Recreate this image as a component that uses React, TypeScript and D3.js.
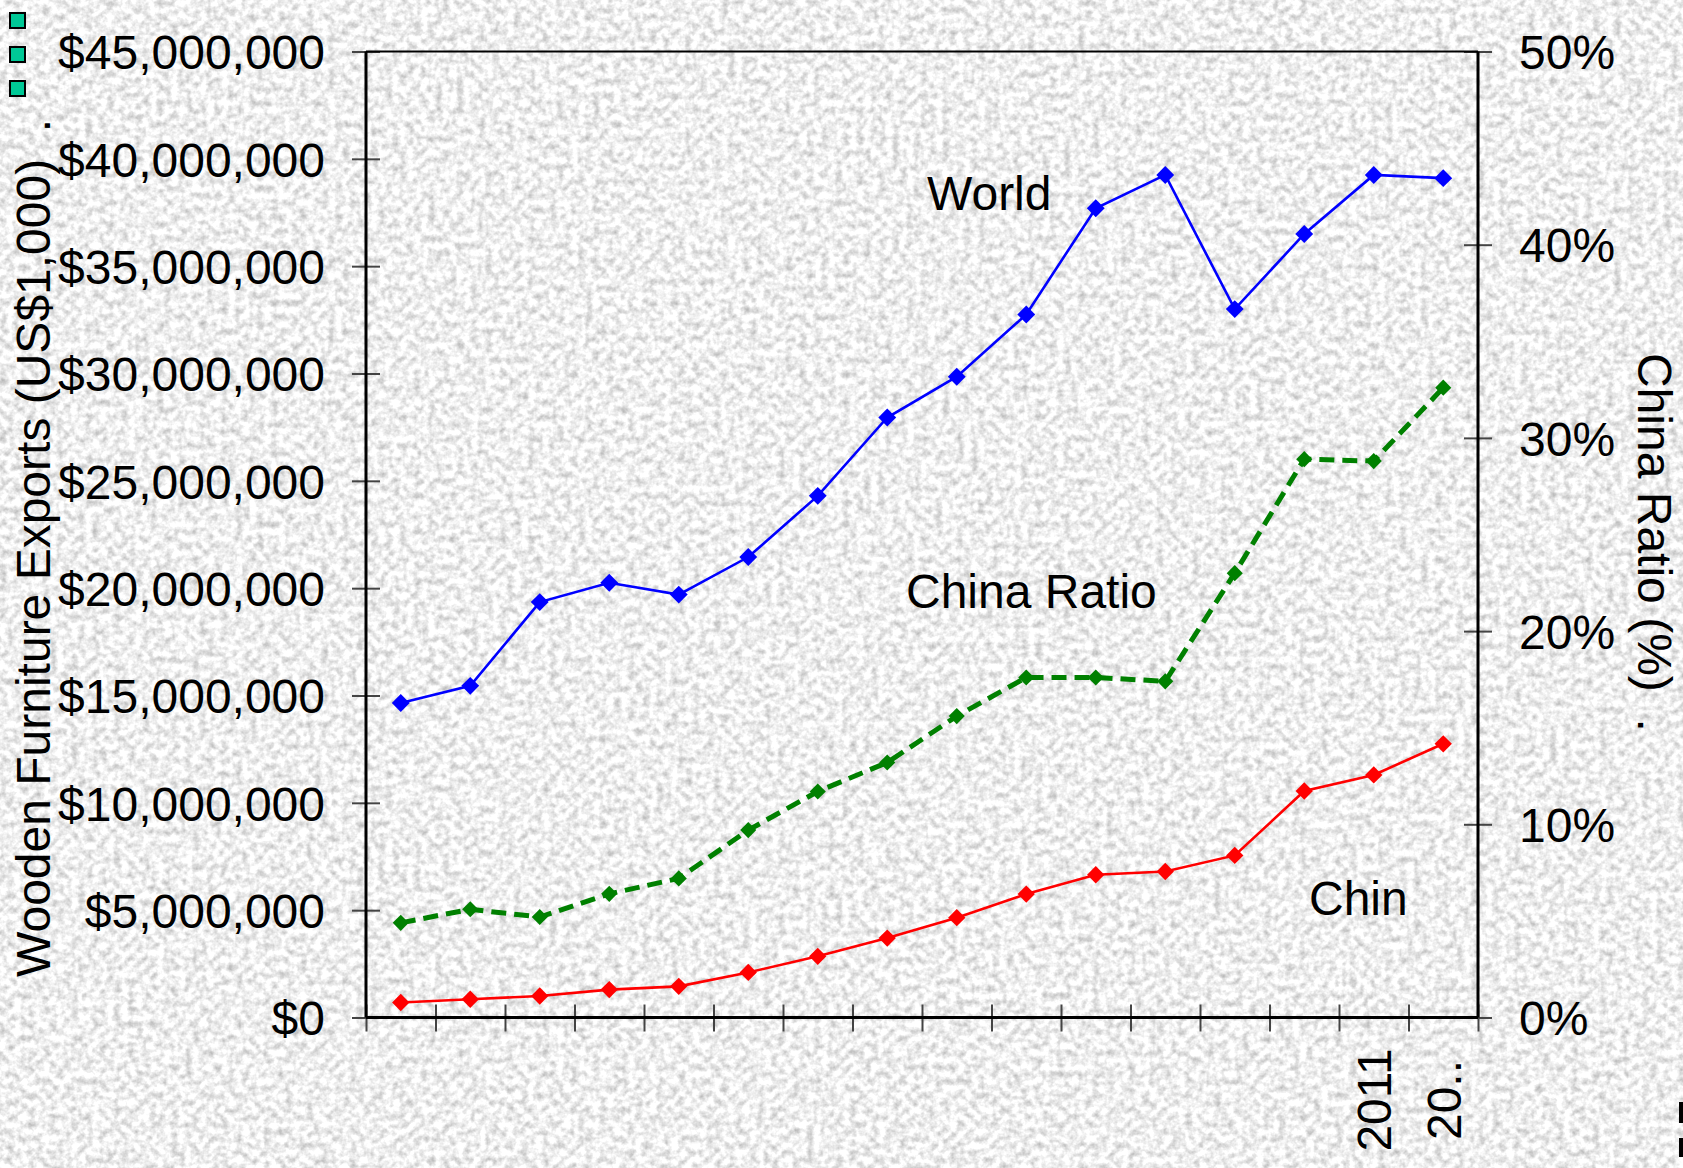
import React, { useRef, useEffect } from 'react';
import * as d3 from 'd3';

// Wooden furniture exports (US$1,000), 1997–2012
const YEARS = ['1997', '1998', '1999', '2000', '2001', '2002', '2003', '2004', '2005', '2006', '2007', '2008', '2009', '2010', '2011', '2012'];
// only the last two category labels survive in the original
const YEAR_LABELS = ['', '', '', '', '', '', '', '', '', '', '', '', '', '', '2011', '20..'];

const WORLD = [14650000, 15450000, 19350000, 20250000, 19700000, 21450000, 24300000, 27950000, 29850000, 32750000, 37700000, 39250000, 33000000, 36500000, 39250000, 39100000];
const CHINA = [700000, 850000, 1000000, 1300000, 1450000, 2100000, 2850000, 3700000, 4650000, 5750000, 6650000, 6800000, 7550000, 10550000, 11300000, 12750000];
const CHINA_RATIO = [4.9, 5.6, 5.2, 6.4, 7.2, 9.7, 11.7, 13.2, 15.6, 17.6, 17.6, 17.4, 23.0, 28.9, 28.8, 32.6];

const LEFT_TICKS = [0, 5000000, 10000000, 15000000, 20000000, 25000000, 30000000, 35000000, 40000000, 45000000];
const RIGHT_TICKS = [0, 10, 20, 30, 40, 50];

const WIDTH = 1683;
const HEIGHT = 1168;
const FONT = '"Liberation Sans", Arial, Helvetica, sans-serif';
const FS = 48;

const App: React.FC = () => {
  const ref = useRef<SVGSVGElement>(null);

  useEffect(() => {
    if (!ref.current) return;
    const svg = d3.select(ref.current);
    svg.selectAll('*').remove();

    const left = 366;
    const right = 1478;
    const top = 51.5;
    const bottom = 1017.5;

    // granite-ish paper background
    const defs = svg.append('defs');
    const filter = defs
      .append('filter')
      .attr('id', 'granite')
      .attr('filterUnits', 'userSpaceOnUse')
      .attr('x', 0)
      .attr('y', 0)
      .attr('width', WIDTH)
      .attr('height', HEIGHT)
      .attr('color-interpolation-filters', 'sRGB');
    filter
      .append('feTurbulence')
      .attr('type', 'fractalNoise')
      .attr('baseFrequency', 0.14)
      .attr('numOctaves', 3)
      .attr('seed', 11);
    filter
      .append('feColorMatrix')
      .attr('type', 'matrix')
      .attr('values', '0.5 0 0 0 0.69  0.5 0 0 0 0.69  0.5 0 0 0 0.69  0 0 0 0 1');

    svg.append('rect').attr('width', WIDTH).attr('height', HEIGHT).attr('fill', '#efefef');
    svg.append('rect').attr('width', WIDTH).attr('height', HEIGHT).attr('filter', 'url(#granite)');

    // Scales
    const x = d3.scaleBand<string>().domain(YEARS).range([left, right]).paddingInner(0).paddingOuter(0);
    const xEdge = d3.scaleLinear().domain([0, YEARS.length]).range([left, right]);
    const yL = d3.scaleLinear().domain([0, 45000000]).range([bottom, top]);
    const yR = d3.scaleLinear().domain([0, 50]).range([bottom, top]);
    const cx = (i: number) => (x(YEARS[i]) ?? 0) + x.bandwidth() / 2;

    const styleText = (sel: d3.Selection<any, any, any, any>) =>
      sel.style('font-family', FONT).style('font-size', `${FS}px`).attr('fill', '#000');

    // Left axis
    const gL = svg
      .append('g')
      .attr('transform', `translate(${left},0)`)
      .call(
        d3
          .axisLeft(yL)
          .tickValues(LEFT_TICKS)
          .tickFormat((d) => '$' + d3.format(',')(d as number))
      );
    gL.selectAll('.tick line').attr('x1', 14).attr('x2', -14).attr('stroke', '#444').attr('stroke-width', 2);
    styleText(gL.selectAll('.tick text').attr('x', -41).attr('dy', '0.36em'));

    // Right axis
    const gR = svg
      .append('g')
      .attr('transform', `translate(${right},0)`)
      .call(
        d3
          .axisRight(yR)
          .tickValues(RIGHT_TICKS)
          .tickFormat((d) => `${d}%`)
      );
    gR.selectAll('.tick line').attr('x1', -14).attr('x2', 14).attr('stroke', '#444').attr('stroke-width', 2);
    styleText(gR.selectAll('.tick text').attr('x', 41).attr('dy', '0.36em'));

    // Bottom axis: ticks on category boundaries
    const gB = svg
      .append('g')
      .attr('transform', `translate(0,${bottom})`)
      .call(
        d3
          .axisBottom(xEdge)
          .tickValues(d3.range(0, YEARS.length + 1))
          .tickFormat(() => '')
      );
    gB.selectAll('.tick line').attr('y1', -13).attr('y2', 14).attr('stroke', '#444').attr('stroke-width', 2);

    svg.selectAll('.domain').remove();
    svg.selectAll('.tick text').attr('font-family', null);

    // Category labels, rotated
    svg
      .append('g')
      .selectAll('text')
      .data(YEAR_LABELS)
      .enter()
      .append('text')
      .attr('transform', (_, i) => `translate(${cx(i)},1100) rotate(-90)`)
      .attr('text-anchor', 'middle')
      .attr('dy', '0.36em')
      .text((d) => d)
      .call(styleText);

    // Frame
    const frame = svg.append('g').attr('stroke', '#000').attr('fill', 'none');
    frame.append('line').attr('x1', left).attr('x2', right).attr('y1', top).attr('y2', top).attr('stroke-width', 2);
    frame.append('line').attr('x1', left).attr('x2', left).attr('y1', top).attr('y2', bottom).attr('stroke-width', 3);
    frame.append('line').attr('x1', right).attr('x2', right).attr('y1', top).attr('y2', bottom).attr('stroke-width', 3);
    frame.append('line').attr('x1', left).attr('x2', right).attr('y1', bottom).attr('y2', bottom).attr('stroke-width', 3);

    // Series
    const diamond = (size: number) => d3.symbol().type(d3.symbolSquare).size(size)();
    const drawSeries = (
      values: number[],
      yScale: d3.ScaleLinear<number, number>,
      color: string,
      width: number,
      dash: string | null,
      markerSize: number
    ) => {
      const line = d3
        .line<number>()
        .x((_, i) => cx(i))
        .y((d) => yScale(d));
      svg
        .append('path')
        .datum(values)
        .attr('d', line)
        .attr('fill', 'none')
        .attr('stroke', color)
        .attr('stroke-width', width)
        .attr('stroke-dasharray', dash);
      svg
        .append('g')
        .selectAll('path')
        .data(values)
        .enter()
        .append('path')
        .attr('d', diamond(markerSize))
        .attr('transform', (d, i) => `translate(${cx(i)},${yScale(d)}) rotate(45)`)
        .attr('fill', color);
    };

    drawSeries(WORLD, yL, '#0000ff', 2.6, null, 160);
    drawSeries(CHINA_RATIO, yR, '#008000', 5, '15,8', 130);
    drawSeries(CHINA, yL, '#ff0000', 2.6, null, 150);

    // Series annotations
    svg.append('text').attr('x', 927).attr('y', 210).text('World').call(styleText);
    svg.append('text').attr('x', 906).attr('y', 608).text('China Ratio').call(styleText);
    svg.append('text').attr('x', 1309).attr('y', 915).text('Chin').call(styleText);

    // Axis titles
    svg
      .append('text')
      .attr('transform', 'translate(50,977) rotate(-90)')
      .attr('text-anchor', 'start')
      .style('white-space', 'pre')
      .text('Wooden Furniture Exports (US$1,000)  .')
      .call(styleText);
    svg
      .append('text')
      .attr('transform', 'translate(1638,353) rotate(90)')
      .attr('text-anchor', 'start')
      .style('white-space', 'pre')
      .text('China Ratio (%)  .')
      .call(styleText);

    // Slide bullets at top left
    svg
      .append('g')
      .selectAll('rect')
      .data([0, 1, 2])
      .enter()
      .append('rect')
      .attr('x', 10)
      .attr('y', (d) => 13 + d * 34)
      .attr('width', 15)
      .attr('height', 15)
      .attr('fill', '#00c896')
      .attr('stroke', '#000')
      .attr('stroke-width', 2);

    // clipped marks at right edge
    svg.append('rect').attr('x', 1679).attr('y', 1102).attr('width', 4).attr('height', 21).attr('fill', '#000');
    svg.append('rect').attr('x', 1679).attr('y', 1138).attr('width', 4).attr('height', 19).attr('fill', '#000');
  }, []);

  return (
    <svg
      ref={ref}
      width={WIDTH}
      height={HEIGHT}
      style={{ position: 'absolute', left: 0, top: 0, display: 'block' }}
    />
  );
};

export default App;
